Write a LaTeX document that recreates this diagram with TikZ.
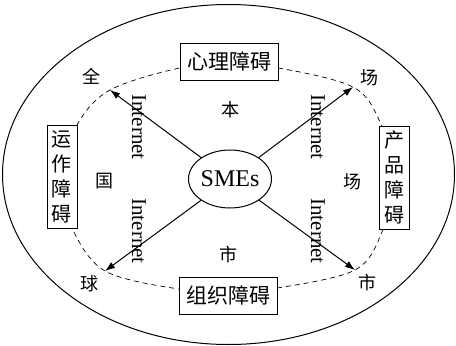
\documentclass[tikz,border=0pt]{standalone}
\usepackage{fontspec}
\setmainfont{Liberation Serif}
\newfontfamily\cjk{Noto Sans CJK SC}
\usetikzlibrary{arrows.meta,shapes.geometric}
\begin{document}
\begin{tikzpicture}[x=1pt,y=-1pt,
  lab/.style={font=\cjk\fontsize{18}{18}\selectfont, inner sep=0pt},
  hbox/.style={draw, fill=white, line width=0.9pt, minimum width=98pt, minimum height=37pt, inner sep=0pt, font=\cjk\fontsize{21}{21}\selectfont},
  vbox/.style={draw, fill=white, line width=0.9pt, minimum width=30pt, minimum height=103pt, inner sep=0pt, align=center, font=\cjk\fontsize{20}{25}\selectfont},
  net/.style={rotate=-90, font=\fontsize{21}{21}\selectfont, inner sep=0pt},
  conn/.style={line width=1pt, -{Latex[length=10pt,width=7pt]}},
  dashline/.style={line width=0.7pt, dash pattern=on 5pt off 4pt},
  ]
\useasboundingbox (0,0) rectangle (456,346);
\draw[line width=1pt] (228.5,174.5) ellipse [x radius=226pt, y radius=170pt];
\coordinate (tl) at (110,90);
\coordinate (tr) at (353,87);
\coordinate (bl) at (105,271);
\coordinate (br) at (355,270);
\draw[dashline] plot[smooth cycle, tension=0.55] coordinates {
  (229,66) (278,68) (tr) (380,122) (395,178) (382,232) (br) (277,288)
  (229,290) (179,289) (bl) (72,228) (60,178) (77,125) (tl) (180,68)};
\node[hbox] (top) at (229,61.5) {心理障碍};
\node[hbox] (bot) at (228,295.5) {组织障碍};
\node[vbox] (left) at (62,176.5) {运\\作\\障\\碍};
\node[vbox] (right) at (394,177.5) {产\\品\\障\\碍};
\node[ellipse, draw, line width=1pt, minimum width=72pt, minimum height=58pt, inner sep=0pt, font=\fontsize{24}{24}\selectfont] (sme) at (230,179) {SMEs};
\draw[conn] (sme) -- (tl);
\draw[conn] (sme) -- (tr);
\draw[conn] (sme) -- (bl);
\draw[conn] (sme) -- (br);
\node[net] (n1) at (139,127) {Internet};
\node[net] (n2) at (139,231) {Internet};
\node[net] (n3) at (318,127) {Internet};
\node[net] (n4) at (318,231) {Internet};
\node[lab] (q) at (91,76) {全};
\node[lab] (c1) at (369,78) {场};
\node[lab] (qiu) at (89,284) {球};
\node[lab] (s1) at (367,283) {市};
\node[lab] (ben) at (230,110) {本};
\node[lab] (guo) at (104.5,181) {国};
\node[lab] (c2) at (352,182) {场};
\node[lab] (s2) at (228,255) {市};
\end{tikzpicture}
\end{document}
